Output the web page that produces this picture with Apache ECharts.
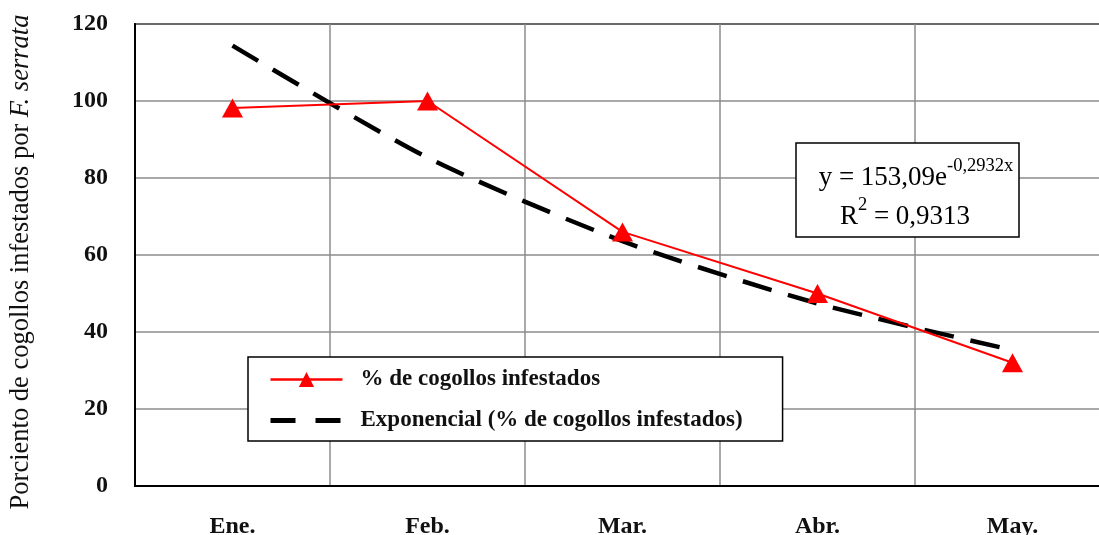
<!DOCTYPE html>
<html>
<head>
<meta charset="utf-8">
<script src="https://cdn.jsdelivr.net/npm/echarts@6/dist/echarts.min.js"></script>
<style>
html,body{margin:0;padding:0;background:#fff;overflow:hidden;}
#chart{width:1110px;height:535px;}
</style>
</head>
<body>
<div id="chart"></div>
<script>
const categories = ['Ene.', 'Feb.', 'Mar.', 'Abr.', 'May.'];
const infestados = [98.2, 100, 66, 50, 32];
const exponencial = [114.4, 85.3, 63.6, 47.4, 35.3];
const yTicks = [0, 20, 40, 60, 80, 100, 120];
const seriesNames = ['% de cogollos infestados', 'Exponencial (% de cogollos infestados)'];

const FONT = '"Liberation Serif", "DejaVu Serif", serif';
const chart = echarts.init(document.getElementById('chart'), null, {renderer: 'canvas'});

chart.setOption({
  backgroundColor: '#fff',
  animation: false,
  grid: {
    left: 135, top: 24, right: 0, bottom: 49,
    outerBoundsMode: 'none',
    containLabel: false,
    show: true, borderColor: '#000', borderWidth: 2, backgroundColor: 'transparent'
  },
  legend: {
    left: 248, top: 357, width: 535,
    orient: 'vertical',
    data: [
      {name: seriesNames[0], lineStyle: {width: 2.5}},
      {name: seriesNames[1], lineStyle: {width: 5, type: [25, 20]}}
    ],
    backgroundColor: '#fff',
    borderColor: '#000', borderWidth: 1.5,
    padding: [11, 40, 9, 20],
    itemGap: 18,
    itemWidth: 72, itemHeight: 19,
    textStyle: {fontFamily: FONT, fontSize: 23, fontWeight: 'bold', color: '#111', padding: [0, 0, 0, 13]}
  },
  xAxis: {
    type: 'category',
    data: categories,
    boundaryGap: true,
    axisLine: {lineStyle: {color: '#000', width: 2}},
    axisTick: {show: false},
    axisLabel: {fontFamily: FONT, fontSize: 24, fontWeight: 'bold', color: '#111', margin: 29},
    splitLine: {show: true, lineStyle: {color: '#8c8c8c', width: 1.5}}
  },
  yAxis: {
    type: 'value',
    min: yTicks[0], max: yTicks[yTicks.length - 1], interval: 20,
    axisLine: {show: true, lineStyle: {color: '#000', width: 2}},
    axisTick: {show: false},
    axisLabel: {fontFamily: FONT, fontSize: 24, fontWeight: 'bold', color: '#111', margin: 27},
    splitLine: {show: true, lineStyle: {color: '#8c8c8c', width: 1.5}},
    name: '{a|Porciento de cogollos infestados por }{b|F. serrata}',
    nameLocation: 'middle',
    nameGap: 100,
    nameTextStyle: {
      padding: [0, 14, 0, 0],
      rich: {
        a: {fontFamily: FONT, fontSize: 26.5, color: '#111'},
        b: {fontFamily: FONT, fontSize: 26.5, fontStyle: 'italic', color: '#111'}
      }
    }
  },
  series: [
    {
      name: seriesNames[0],
      type: 'line',
      data: infestados,
      symbol: 'triangle',
      symbolSize: [21, 19],
      lineStyle: {color: '#ff0000', width: 2},
      itemStyle: {color: '#ff0000'},
      z: 3
    },
    {
      name: seriesNames[1],
      type: 'line',
      data: exponencial,
      smooth: 0.25,
      symbol: 'path://M0,0L10,10',
      symbolSize: 0,
      showSymbol: false,
      lineStyle: {color: '#000', width: 4.5, type: [30, 17]},
      itemStyle: {color: '#000', borderWidth: 0},
      z: 2
    }
  ],
  graphic: [
    {
      type: 'rect',
      shape: {x: 796, y: 143, width: 223, height: 94},
      style: {fill: '#fff', stroke: '#000', lineWidth: 1.5},
      z: 10
    },
    {
      type: 'text',
      x: 916, y: 174,
      style: {
        text: '{m|y = 153,09e}{s|-0,2932x}',
        align: 'center', verticalAlign: 'middle',
        rich: {
          m: {fontFamily: FONT, fontSize: 27, color: '#111', verticalAlign: 'bottom'},
          s: {fontFamily: FONT, fontSize: 18.5, color: '#111', verticalAlign: 'top', padding: [0, 0, 15, 0]}
        }
      },
      z: 11
    },
    {
      type: 'text',
      x: 905, y: 213,
      style: {
        text: '{m|R}{s|2}{m| = 0,9313}',
        align: 'center', verticalAlign: 'middle',
        rich: {
          m: {fontFamily: FONT, fontSize: 27, color: '#111', verticalAlign: 'bottom'},
          s: {fontFamily: FONT, fontSize: 18.5, color: '#111', verticalAlign: 'top', padding: [0, 0, 15, 0]}
        }
      },
      z: 11
    }
  ]
});
</script>
</body>
</html>
